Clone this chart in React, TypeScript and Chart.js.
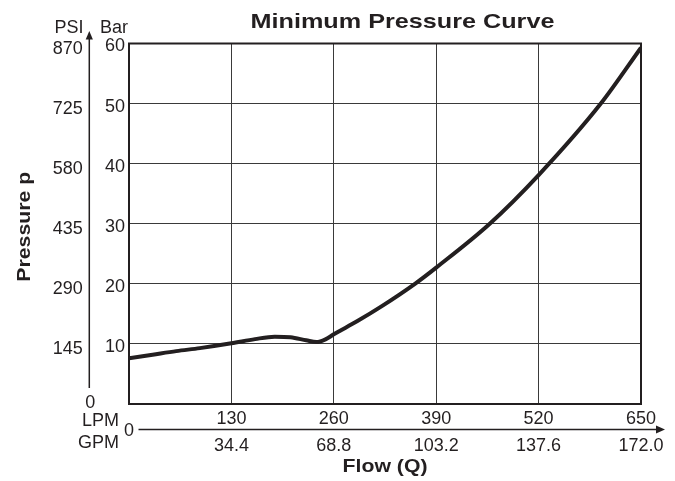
import React, { useEffect, useRef } from 'react';
import { Chart, registerables } from 'chart.js';

Chart.register(...registerables);

// ---- data ----
const flowLpm = [0, 30, 60, 90, 130, 160, 185, 205, 225, 238, 250, 260, 290, 320, 363, 390, 458, 520, 599, 650];
const pressureBar = [7.6, 8.2, 8.8, 9.3, 10.1, 10.8, 11.2, 11.1, 10.6, 10.3, 10.8, 11.6, 13.8, 16.2, 20.0, 22.7, 30.0, 38.1, 50.0, 59.3];
const lpmTicks = [0, 130, 260, 390, 520, 650];
const gpmLabels = ['0', '34.4', '68.8', '103.2', '137.6', '172.0'];
const barTicks = [0, 10, 20, 30, 40, 50, 60];
const psiLabels = ['0', '145', '290', '435', '580', '725', '870'];
const chartTitle = 'Minimum Pressure Curve';
const xAxisTitle = 'Flow (Q)';
const yAxisTitle = 'Pressure p';

const INK = '#231f20';
const GRID = '#3a3a3a';
const FAMILY = '"Liberation Sans", Arial, Helvetica, sans-serif';
const REG = `18px ${FAMILY}`;
const BOLD = `bold 18px ${FAMILY}`;
const TITLE = `bold 21px ${FAMILY}`;

// draws text stretched along its reading direction (wide bold face of the reference)
function wideText(ctx: any, text: string, x: number, y: number, sx: number, rot = 0) {
  ctx.save();
  ctx.translate(x, y);
  if (rot) ctx.rotate(rot);
  ctx.scale(sx, 1);
  ctx.textAlign = 'center';
  ctx.textBaseline = 'alphabetic';
  ctx.fillText(text, 0, 0);
  ctx.restore();
}

const framePlugin = {
  id: 'frame',
  beforeDatasetsDraw(chart: any) {
    const { ctx, chartArea: a } = chart;
    ctx.save();
    ctx.strokeStyle = INK;
    ctx.lineWidth = 2;
    ctx.strokeRect(a.left, a.top, a.right - a.left, a.bottom - a.top);
    ctx.restore();
  },
  afterDraw(chart: any) {
    const { ctx, chartArea: a, scales } = chart;
    const xs = scales.x;
    const ys = scales.y;
    ctx.save();
    ctx.fillStyle = INK;
    ctx.strokeStyle = INK;

    // title
    ctx.font = TITLE;
    wideText(ctx, chartTitle, 402.5, 28, 1.2);

    // vertical PSI axis arrow
    const ax = a.left - 39.7;
    ctx.lineWidth = 1.5;
    ctx.beginPath();
    ctx.moveTo(ax, ys.getPixelForValue(0) - 16);
    ctx.lineTo(ax, a.top - 5);
    ctx.stroke();
    ctx.beginPath();
    ctx.moveTo(ax, a.top - 12.5);
    ctx.lineTo(ax - 3.6, a.top - 4);
    ctx.lineTo(ax + 3.6, a.top - 4);
    ctx.closePath();
    ctx.fill();

    // PSI / Bar headers
    ctx.font = REG;
    ctx.textAlign = 'center';
    ctx.textBaseline = 'alphabetic';
    ctx.fillText('PSI', 69, 33);
    ctx.fillText('Bar', 114, 33);

    // PSI labels
    barTicks.forEach((b, i) => {
      const py = ys.getPixelForValue(b);
      if (i === 0) {
        ctx.textAlign = 'center';
        ctx.fillText(psiLabels[i], ax + 1, py + 4);
      } else {
        ctx.textAlign = 'right';
        ctx.fillText(psiLabels[i], ax - 6.5, py + 10.3);
      }
    });

    // horizontal flow axis arrow
    const ay = a.bottom + 25.5;
    ctx.beginPath();
    ctx.moveTo(a.left + 9.5, ay);
    ctx.lineTo(a.right + 16, ay);
    ctx.stroke();
    ctx.beginPath();
    ctx.moveTo(a.right + 24, ay);
    ctx.lineTo(a.right + 15, ay - 4);
    ctx.lineTo(a.right + 15, ay + 4);
    ctx.closePath();
    ctx.fill();

    // LPM / GPM
    ctx.textAlign = 'right';
    ctx.fillText('LPM', a.left - 10, a.bottom + 22);
    ctx.fillText('GPM', a.left - 10, a.bottom + 44);
    ctx.textAlign = 'center';
    lpmTicks.forEach((v, i) => {
      const px = xs.getPixelForValue(v);
      if (i === 0) {
        ctx.fillText(gpmLabels[i], px, ay + 6.3);
      } else {
        ctx.fillText(gpmLabels[i], px, a.bottom + 47);
      }
    });

    // axis titles
    ctx.font = BOLD;
    wideText(ctx, xAxisTitle, (a.left + a.right) / 2, 472, 1.18);
    wideText(ctx, yAxisTitle, 29.5, (a.top + a.bottom) / 2 + 3, 1.18, -Math.PI / 2);

    ctx.restore();
  },
};

export default function App() {
  const ref = useRef<HTMLCanvasElement | null>(null);
  useEffect(() => {
    document.body.style.margin = '0';
    const canvas = ref.current;
    if (!canvas) return;
    const chart = new Chart(canvas, {
      type: 'line',
      data: {
        datasets: [
          {
            data: flowLpm.map((q, i) => ({ x: q, y: pressureBar[i] })),
            borderColor: INK,
            borderWidth: 4,
            pointRadius: 0,
            cubicInterpolationMode: 'monotone',
            fill: false,
          },
        ],
      },
      options: {
        responsive: false,
        animation: false,
        events: [],
        layout: { padding: { left: 89, right: 34, top: 43.5, bottom: 37 } },
        plugins: {
          legend: { display: false },
          tooltip: { enabled: false },
          title: { display: false },
        },
        scales: {
          x: {
            type: 'linear',
            min: 0,
            max: 650,
            afterBuildTicks: (s: any) => {
              s.ticks = lpmTicks.map((v) => ({ value: v }));
            },
            afterFit: (s: any) => {
              s.height = 40;
            },
            grid: { color: GRID, lineWidth: 1, drawTicks: false },
            border: { display: false },
            ticks: {
              padding: 4,
              color: INK,
              font: { family: FAMILY, size: 18 },
              maxRotation: 0,
              autoSkip: false,
              callback: (v: any) => (v === 0 ? '' : String(v)),
            },
          },
          y: {
            type: 'linear',
            min: 0,
            max: 60,
            afterBuildTicks: (s: any) => {
              s.ticks = barTicks.map((v) => ({ value: v }));
            },
            afterFit: (s: any) => {
              s.width = 40;
            },
            grid: { color: GRID, lineWidth: 1, drawTicks: false },
            border: { display: false },
            ticks: {
              padding: 4,
              labelOffset: 3,
              color: INK,
              font: { family: FAMILY, size: 18 },
              autoSkip: false,
              callback: (v: any) => (v === 0 ? '' : String(v)),
            },
          },
        },
      },
      plugins: [framePlugin],
    } as any);
    return () => chart.destroy();
  }, []);
  return <canvas ref={ref} width={675} height={481} style={{ display: 'block' }} />;
}
